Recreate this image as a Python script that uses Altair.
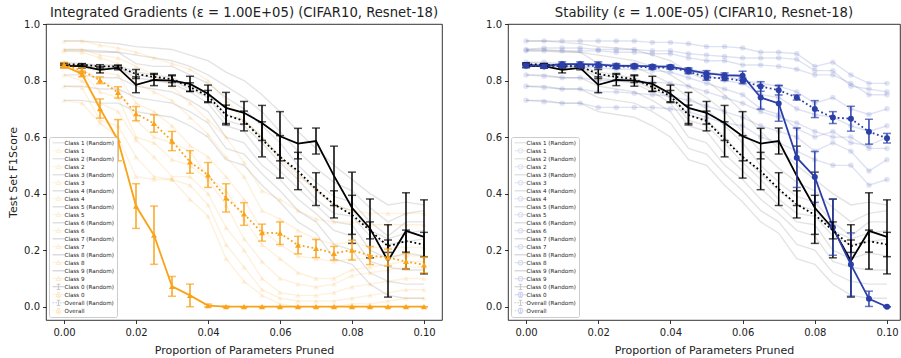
import altair as alt
import pandas as pd

# ---------------- data ----------------
X = [0.0, 0.005, 0.01, 0.015, 0.02, 0.025, 0.03, 0.035, 0.04, 0.045, 0.05,
     0.055, 0.06, 0.065, 0.07, 0.075, 0.08, 0.085, 0.09, 0.095, 0.1]

CLASS_IDS = [1, 2, 3, 4, 5, 6, 7, 8, 9]

# per-class random-pruning curves (classes 1..9) - same in both panels
RANDOM_CLASSES = [
    [0.94, 0.94, 0.935, 0.93, 0.92, 0.915, 0.91, 0.89, 0.87, 0.83, 0.80, 0.75, 0.69, 0.62, 0.56, 0.50, 0.45, 0.40, 0.36, 0.37, 0.36],
    [0.91, 0.91, 0.905, 0.90, 0.89, 0.88, 0.87, 0.85, 0.82, 0.78, 0.74, 0.69, 0.62, 0.55, 0.49, 0.44, 0.41, 0.35, 0.30, 0.33, 0.34],
    [0.905, 0.905, 0.90, 0.90, 0.86, 0.85, 0.85, 0.82, 0.79, 0.74, 0.70, 0.64, 0.58, 0.50, 0.44, 0.39, 0.37, 0.30, 0.25, 0.30, 0.30],
    [0.865, 0.86, 0.855, 0.855, 0.83, 0.82, 0.81, 0.78, 0.75, 0.68, 0.66, 0.60, 0.53, 0.47, 0.41, 0.36, 0.34, 0.27, 0.24, 0.26, 0.27],
    [0.855, 0.855, 0.85, 0.85, 0.82, 0.81, 0.80, 0.77, 0.74, 0.66, 0.64, 0.58, 0.51, 0.45, 0.38, 0.33, 0.32, 0.25, 0.22, 0.23, 0.24],
    [0.85, 0.85, 0.845, 0.845, 0.81, 0.80, 0.79, 0.76, 0.72, 0.64, 0.62, 0.54, 0.48, 0.42, 0.36, 0.30, 0.29, 0.20, 0.17, 0.19, 0.18],
    [0.82, 0.82, 0.81, 0.81, 0.78, 0.77, 0.76, 0.73, 0.69, 0.60, 0.58, 0.50, 0.45, 0.38, 0.33, 0.27, 0.25, 0.16, 0.14, 0.13, 0.13],
    [0.78, 0.78, 0.77, 0.77, 0.74, 0.73, 0.72, 0.69, 0.65, 0.56, 0.54, 0.47, 0.41, 0.34, 0.30, 0.22, 0.20, 0.12, 0.09, 0.08, 0.08],
    [0.73, 0.73, 0.72, 0.72, 0.69, 0.68, 0.67, 0.64, 0.60, 0.52, 0.50, 0.43, 0.37, 0.30, 0.26, 0.17, 0.15, 0.08, 0.04, 0.03, 0.03],
]

# per-class Integrated Gradients curves (classes 1..9)
IG_CLASSES = [
    [0.94, 0.94, 0.925, 0.915, 0.90, 0.88, 0.86, 0.84, 0.80, 0.73, 0.66, 0.60, 0.52, 0.46, 0.42, 0.36, 0.34, 0.33, 0.33, 0.33, 0.33],
    [0.91, 0.91, 0.89, 0.88, 0.85, 0.82, 0.78, 0.72, 0.66, 0.60, 0.51, 0.41, 0.38, 0.34, 0.31, 0.30, 0.30, 0.29, 0.29, 0.29, 0.29],
    [0.905, 0.90, 0.88, 0.86, 0.79, 0.76, 0.73, 0.67, 0.61, 0.53, 0.46, 0.34, 0.31, 0.27, 0.24, 0.22, 0.23, 0.21, 0.21, 0.21, 0.21],
    [0.865, 0.85, 0.83, 0.82, 0.72, 0.69, 0.64, 0.57, 0.53, 0.46, 0.38, 0.27, 0.22, 0.18, 0.17, 0.16, 0.17, 0.17, 0.18, 0.18, 0.18],
    [0.855, 0.84, 0.80, 0.77, 0.66, 0.60, 0.58, 0.55, 0.46, 0.41, 0.31, 0.22, 0.17, 0.12, 0.10, 0.10, 0.13, 0.14, 0.15, 0.16, 0.16],
    [0.85, 0.83, 0.76, 0.74, 0.60, 0.58, 0.52, 0.50, 0.45, 0.36, 0.24, 0.16, 0.10, 0.08, 0.07, 0.08, 0.11, 0.12, 0.13, 0.14, 0.14],
    [0.82, 0.80, 0.72, 0.69, 0.59, 0.53, 0.46, 0.46, 0.40, 0.28, 0.20, 0.10, 0.05, 0.04, 0.04, 0.05, 0.07, 0.08, 0.09, 0.10, 0.10],
    [0.78, 0.775, 0.66, 0.64, 0.53, 0.46, 0.45, 0.43, 0.36, 0.22, 0.14, 0.06, 0.03, 0.02, 0.02, 0.02, 0.03, 0.04, 0.05, 0.06, 0.06],
    [0.73, 0.72, 0.65, 0.60, 0.46, 0.45, 0.45, 0.38, 0.32, 0.17, 0.09, 0.04, 0.01, 0.0, 0.0, 0.0, 0.01, 0.01, 0.02, 0.03, 0.03],
]

# per-class Stability curves (classes 1..9)
ST_CLASSES = [
    [0.94, 0.94, 0.94, 0.94, 0.94, 0.94, 0.94, 0.935, 0.935, 0.93, 0.92, 0.92, 0.915, 0.90, 0.90, 0.895, 0.85, 0.865, 0.82, 0.79, 0.79],
    [0.91, 0.915, 0.915, 0.915, 0.91, 0.91, 0.91, 0.905, 0.905, 0.895, 0.89, 0.885, 0.88, 0.88, 0.88, 0.875, 0.835, 0.835, 0.78, 0.77, 0.76],
    [0.905, 0.905, 0.905, 0.905, 0.905, 0.90, 0.90, 0.895, 0.895, 0.88, 0.87, 0.87, 0.855, 0.855, 0.85, 0.84, 0.82, 0.82, 0.79, 0.75, 0.75],
    [0.865, 0.865, 0.86, 0.86, 0.86, 0.855, 0.855, 0.85, 0.85, 0.84, 0.83, 0.82, 0.80, 0.79, 0.78, 0.76, 0.72, 0.74, 0.70, 0.68, 0.70],
    [0.855, 0.855, 0.86, 0.86, 0.855, 0.855, 0.85, 0.85, 0.845, 0.835, 0.82, 0.80, 0.79, 0.75, 0.74, 0.70, 0.68, 0.67, 0.64, 0.62, 0.64],
    [0.85, 0.85, 0.85, 0.85, 0.845, 0.84, 0.84, 0.835, 0.83, 0.81, 0.79, 0.77, 0.75, 0.70, 0.68, 0.63, 0.60, 0.62, 0.58, 0.57, 0.60],
    [0.82, 0.815, 0.81, 0.81, 0.80, 0.80, 0.80, 0.795, 0.79, 0.78, 0.76, 0.74, 0.72, 0.69, 0.67, 0.65, 0.62, 0.60, 0.60, 0.56, 0.56],
    [0.78, 0.775, 0.77, 0.77, 0.76, 0.76, 0.755, 0.75, 0.745, 0.73, 0.71, 0.69, 0.67, 0.64, 0.62, 0.60, 0.55, 0.58, 0.55, 0.48, 0.52],
    [0.73, 0.725, 0.72, 0.72, 0.705, 0.705, 0.705, 0.705, 0.70, 0.69, 0.67, 0.65, 0.64, 0.60, 0.58, 0.55, 0.52, 0.50, 0.50, 0.43, 0.45],
]

# Class 0 (Random) and Overall (Random): mean and error half-width
C0R_MEAN = [0.852, 0.851, 0.838, 0.845, 0.785, 0.802, 0.800, 0.788, 0.753, 0.703, 0.686, 0.650, 0.603, 0.577, 0.586, 0.463, 0.350, 0.277, 0.162, 0.268, 0.247]
C0R_ERR = [0.006, 0.007, 0.011, 0.007, 0.028, 0.020, 0.020, 0.027, 0.031, 0.055, 0.040, 0.062, 0.087, 0.054, 0.046, 0.105, 0.126, 0.104, 0.128, 0.135, 0.131]
OVR_MEAN = [0.858, 0.856, 0.850, 0.850, 0.823, 0.813, 0.805, 0.777, 0.745, 0.678, 0.657, 0.592, 0.530, 0.480, 0.416, 0.362, 0.325, 0.270, 0.214, 0.232, 0.220]
OVR_ERR = [0.004, 0.004, 0.006, 0.005, 0.016, 0.012, 0.012, 0.015, 0.020, 0.035, 0.035, 0.062, 0.075, 0.066, 0.058, 0.048, 0.069, 0.030, 0.022, 0.039, 0.043]

# Integrated Gradients: Class 0 and Overall
IG_C0_MEAN = [0.852, 0.823, 0.701, 0.589, 0.356, 0.253, 0.072, 0.040, 0.004, 0.0, 0.0, 0.0, 0.0, 0.0, 0.0, 0.0, 0.0, 0.0, 0.0, 0.0, 0.0]
IG_C0_ERR = [0.006, 0.010, 0.034, 0.073, 0.079, 0.103, 0.035, 0.040, 0.005, 0.002, 0.0, 0.0, 0.0, 0.0, 0.0, 0.0, 0.0, 0.0, 0.0, 0.0, 0.0]
IG_OV_MEAN = [0.856, 0.835, 0.801, 0.758, 0.683, 0.648, 0.586, 0.512, 0.466, 0.385, 0.328, 0.262, 0.260, 0.218, 0.206, 0.189, 0.200, 0.181, 0.174, 0.160, 0.148]
IG_OV_ERR = [0.008, 0.010, 0.012, 0.020, 0.025, 0.031, 0.034, 0.040, 0.044, 0.050, 0.040, 0.030, 0.040, 0.031, 0.032, 0.024, 0.035, 0.032, 0.030, 0.028, 0.028]

# Stability: Class 0 and Overall
ST_C0_MEAN = [0.855, 0.852, 0.858, 0.858, 0.856, 0.852, 0.852, 0.850, 0.849, 0.837, 0.825, 0.819, 0.817, 0.740, 0.719, 0.527, 0.459, 0.281, 0.149, 0.028, 0.0]
ST_C0_ERR = [0.008, 0.008, 0.008, 0.008, 0.010, 0.008, 0.006, 0.006, 0.006, 0.008, 0.010, 0.008, 0.016, 0.041, 0.063, 0.105, 0.090, 0.099, 0.112, 0.027, 0.0]
ST_OV_MEAN = [0.852, 0.850, 0.852, 0.852, 0.852, 0.849, 0.849, 0.846, 0.846, 0.832, 0.811, 0.808, 0.799, 0.779, 0.766, 0.740, 0.699, 0.669, 0.665, 0.619, 0.596]
ST_OV_ERR = [0.006, 0.006, 0.006, 0.006, 0.006, 0.006, 0.006, 0.006, 0.006, 0.008, 0.010, 0.008, 0.010, 0.017, 0.017, 0.009, 0.030, 0.021, 0.044, 0.044, 0.017]

X_TICKS = [0.0, 0.02, 0.04, 0.06, 0.08, 0.1]
Y_TICKS = [0.0, 0.2, 0.4, 0.6, 0.8, 1.0]

TITLES = [
    "Integrated Gradients (\u03b5 = 1.00E+05) (CIFAR10, Resnet-18)",
    "Stability (\u03b5 = 1.00E-05) (CIFAR10, Resnet-18)",
]
ORANGE = "#f9a31b"
BLUE = "#2b3fa9"

FONT = "DejaVu Sans"

# legend symbol paths (unit box, line drawn to the right of the centre)
P_LINE = "M-1,0H3"
P_TRI = "M1,-0.8L1.75,0.55L0.25,0.55Z"
P_CIRC = "M0.25,0A0.75,0.75 0 1,0 1.75,0A0.75,0.75 0 1,0 0.25,0"
P_BAR = "M1,-0.9V0.9M0.4,-0.9H1.6M0.4,0.9H1.6"
P_DOT = "M-1,0H-0.45M0.0,0H0.55M1.45,0H2.0M2.45,0H3"


def legend_defs(color, marker_path):
    names, colors, shapes, opac = [], [], [], []
    for k in CLASS_IDS:
        names += [f"Class {k} (Random)", f"Class {k}"]
        colors += ["black", color]
        shapes += [P_LINE, P_LINE + marker_path]
        opac += [0.13, 0.22]
    names += ["Class 0 (Random)", "Class 0", "Overall (Random)", "Overall"]
    colors += ["black", color, "black", color]
    shapes += [P_LINE + P_BAR, P_LINE + P_BAR + marker_path,
               P_DOT + P_BAR, P_DOT + P_BAR + marker_path]
    opac += [1, 1, 1, 1]
    return names, colors, shapes, opac


def panel(idx, method_classes, c0_mean, c0_err, ov_mean, ov_err, color, shape, marker_path,
          width, xmax, ytitle):
    rand_rows, cls_rows = [], []
    for k, (rv, cv) in enumerate(zip(RANDOM_CLASSES, method_classes), start=1):
        for x, a, b in zip(X, rv, cv):
            rand_rows.append({"series": f"Class {k} (Random)", "x": x, "y": a})
            cls_rows.append({"series": f"Class {k}", "x": x, "y": b})
    rand_df = pd.DataFrame(rand_rows)
    cls_df = pd.DataFrame(cls_rows)

    def main_df(mean, err):
        return pd.DataFrame({"x": X, "y": mean,
                             "lo": [m - e for m, e in zip(mean, err)],
                             "hi": [m + e for m, e in zip(mean, err)]})

    xs = alt.X("x:Q", scale=alt.Scale(domain=[-0.005, xmax], nice=False, zero=False),
               axis=alt.Axis(values=X_TICKS, format=".2f", title="Proportion of Parameters Pruned"))

    def ys(field):
        if ytitle:
            ax = alt.Axis(values=Y_TICKS, format=".1f", title="Test Set F1Score")
        else:
            ax = alt.Axis(values=Y_TICKS, format=".1f", title=None)
        return alt.Y(f"{field}:Q", scale=alt.Scale(domain=[-0.047, 1.0], nice=False, zero=False), axis=ax)

    layers = []
    layers.append(alt.Chart(rand_df).mark_line(color="black", opacity=0.11, strokeWidth=1.4)
                  .encode(x=xs, y=ys("y"), detail="series:N"))
    layers.append(alt.Chart(cls_df).mark_line(color=color, opacity=0.15, strokeWidth=1.4)
                  .encode(x=xs, y=ys("y"), detail="series:N"))
    layers.append(alt.Chart(cls_df).mark_point(color=color, opacity=0.14, filled=True,
                                               shape=shape, size=30)
                  .encode(x=xs, y=ys("y")))

    mains = [
        (main_df(C0R_MEAN, C0R_ERR), "black", False, False),
        (main_df(c0_mean, c0_err), color, False, True),
        (main_df(OVR_MEAN, OVR_ERR), "black", True, False),
        (main_df(ov_mean, ov_err), color, True, True),
    ]
    for df, col, dotted, markers in mains:
        base = alt.Chart(df)
        layers.append(base.mark_rule(color=col, strokeWidth=1.5)
                      .encode(x=xs, y=ys("lo"), y2="hi:Q"))
        layers.append(base.mark_tick(color=col, orient="horizontal", size=8, thickness=1.5)
                      .encode(x=xs, y=ys("lo")))
        layers.append(base.mark_tick(color=col, orient="horizontal", size=8, thickness=1.5)
                      .encode(x=xs, y=ys("hi")))
        if dotted:
            line = base.mark_line(color=col, strokeWidth=1.8, strokeDash=[1.8, 2.6])
        else:
            line = base.mark_line(color=col, strokeWidth=1.8)
        layers.append(line.encode(x=xs, y=ys("y")))
        if markers:
            layers.append(base.mark_point(color=col, filled=True, opacity=1, shape=shape, size=36)
                          .encode(x=xs, y=ys("y")))

    names, colors, shapes, opac = legend_defs(color, marker_path)
    leg = alt.Legend(title=None, orient="bottom-left", offset=3, symbolSize=36,
                     symbolStrokeWidth=1.1, labelFontSize=5.6, labelFont=FONT,
                     labelColor="#222222", labelOffset=5, rowPadding=1.0, clipHeight=6.6,
                     padding=2.5, strokeColor="#cccccc", fillColor="#ffffff", cornerRadius=2,
                     labelLimit=200)
    legend_layer = (alt.Chart(cls_df).mark_point(filled=False)
                    .encode(x=xs, y=ys("y"),
                            color=alt.Color("series:N", scale=alt.Scale(domain=names, range=colors), legend=leg),
                            shape=alt.Shape("series:N", scale=alt.Scale(domain=names, range=shapes), legend=leg),
                            opacity=alt.Opacity("series:N", scale=alt.Scale(domain=names, range=opac), legend=leg))
                    .transform_filter("false"))
    layers.append(legend_layer)

    return alt.layer(*layers).properties(
        width=width, height=296,
        title=alt.Title(TITLES[idx], offset=-1, fontSize=13.2, fontWeight="normal",
                        font=FONT, color="#222222"))


left = panel(0, IG_CLASSES, IG_C0_MEAN, IG_C0_ERR, IG_OV_MEAN, IG_OV_ERR, ORANGE,
             "triangle-up", P_TRI, 396, 0.105, True)
right = panel(1, ST_CLASSES, ST_C0_MEAN, ST_C0_ERR, ST_OV_MEAN, ST_OV_ERR, BLUE,
              "circle", P_CIRC, 392, 0.1036, False)

chart = (alt.hconcat(left, right, spacing=42)
         .resolve_scale(color="independent", shape="independent", opacity="independent")
         .properties(padding={"left": 7, "top": 5, "right": 0, "bottom": 0})
         .configure(font=FONT)
         .configure_view(stroke="black", strokeWidth=0.8)
         .configure_axis(domain=False, grid=False, tickColor="black", tickWidth=0.8, tickSize=3.5,
                         labelFontSize=10, labelColor="#222222", labelFont=FONT,
                         titleFontSize=11, titleFontWeight="normal", titleColor="#222222",
                         titleFont=FONT)
         .configure_axisY(labelPadding=3, titlePadding=5)
         .configure_axisX(labelPadding=4, titlePadding=7)
         .configure_title(fontSize=13.2, fontWeight="normal", font=FONT, color="#222222",
                          anchor="middle"))

chart.save("out.html", embed_options={"renderer": "svg", "actions": False})
